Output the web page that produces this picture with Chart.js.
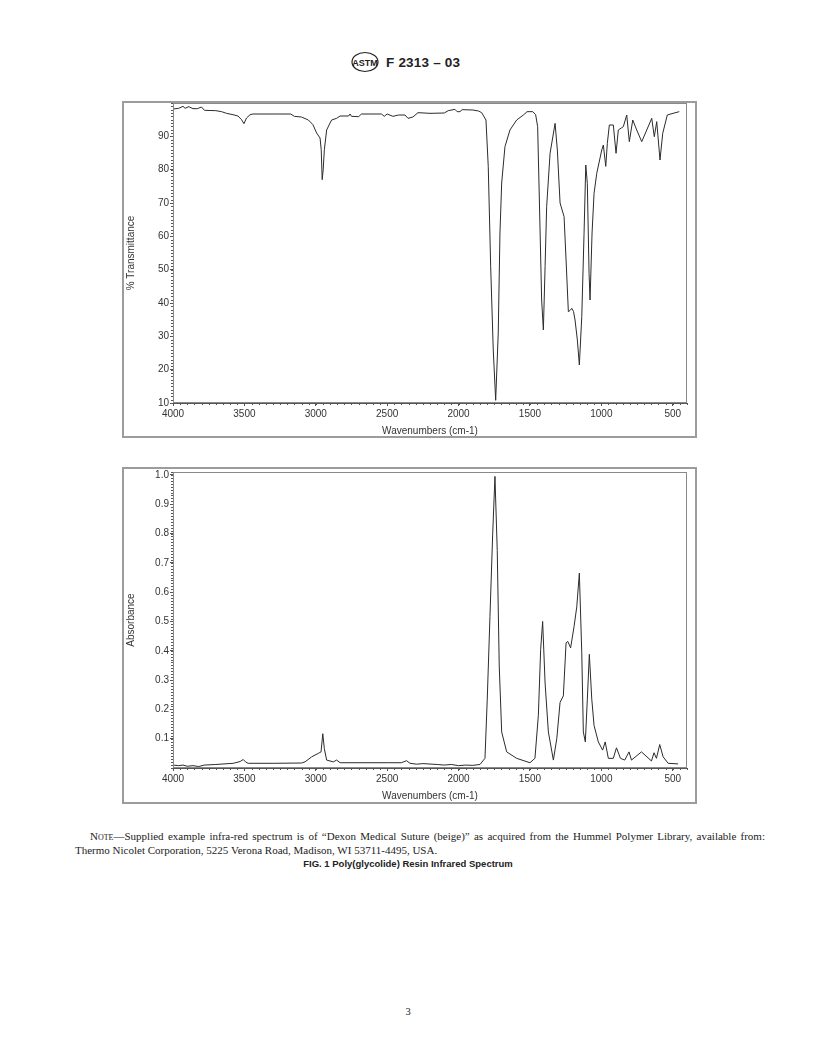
<!DOCTYPE html>
<html>
<head>
<meta charset="utf-8">
<title>F 2313 – 03 — FIG. 1</title>
<script src="https://cdn.jsdelivr.net/npm/chart.js@4.4.1/dist/chart.umd.min.js"></script>
<style>
  html, body { margin: 0; padding: 0; background: #fff; }
  #page { position: relative; width: 816px; height: 1056px; overflow: hidden; color: #222; font-family: "Liberation Sans", Arial, sans-serif; }
  #header { position: absolute; left: 350px; top: 51px; height: 22px; display: flex; align-items: center; }
  #header .code { font-weight: bold; font-size: 13.5px; margin-left: 6px; letter-spacing: 0.2px; }
  .frame { position: absolute; left: 122px; width: 575px; height: 337px; box-sizing: border-box; border: 2px solid #9c9c9c; }
  #frame-top { top: 101px; }
  #frame-bottom { top: 467px; }
  .frame canvas { display: block; }
  #note { position: absolute; left: 75px; width: 690px; top: 829px; font-family: "Liberation Serif", "Times New Roman", serif; font-size: 11px; line-height: 14px; text-align: justify; text-indent: 15px; }
  #note .sc { font-variant: small-caps; }
  #caption { position: absolute; left: 0; width: 816px; top: 858px; text-align: center; font-weight: bold; font-size: 9.5px; }
  #pageno { position: absolute; left: 0; width: 816px; top: 1006px; text-align: center; font-family: "Liberation Serif", serif; font-size: 10.5px; }
</style>
</head>
<body>
<div id="page">
  <div id="header">
    <svg width="30" height="22" viewBox="0 0 30 22">
      <ellipse cx="15" cy="11" rx="13" ry="9.5" fill="none" stroke="#222" stroke-width="1.2"/>
      <text x="15" y="14.5" text-anchor="middle" font-family="Liberation Sans, Arial" font-weight="bold" font-size="9" fill="#222">ASTM</text>
    </svg>
    <span class="code">F 2313 – 03</span>
  </div>

  <div class="frame" id="frame-top"><canvas id="chartT" width="571" height="333"></canvas></div>
  <div class="frame" id="frame-bottom"><canvas id="chartA" width="571" height="333"></canvas></div>

  <div id="note"><span class="sc">Note</span>—Supplied example infra-red spectrum is of “Dexon Medical Suture (beige)” as acquired from the Hummel Polymer Library, available from: Thermo Nicolet Corporation, 5225 Verona Road, Madison, WI 53711-4495, USA.</div>
  <div id="caption">FIG. 1 Poly(glycolide) Resin Infrared Spectrum</div>
  <div id="pageno">3</div>
</div>

<script>
// --- DATA ---
const xTicks = [4000, 3500, 3000, 2500, 2000, 1500, 1000, 500];
const transTicks = [10, 20, 30, 40, 50, 60, 70, 80, 90];
const absTicks = [0.1, 0.2, 0.3, 0.4, 0.5, 0.6, 0.7, 0.8, 0.9, 1.0];

// % Transmittance spectrum
const transWn = [
  4000, 3960, 3930, 3915, 3890, 3860, 3830, 3800, 3780, 3700, 3660, 3625, 3580, 3545, 3520, 3503, 3485, 3460,
  3440, 3300, 3175, 3150, 3100, 3052, 3020, 2994, 2970, 2962, 2955, 2948, 2940, 2924, 2900, 2889, 2854, 2830,
  2770, 2760, 2750, 2700, 2680, 2600, 2540, 2520, 2500, 2460, 2420, 2375, 2354, 2320, 2284, 2200, 2100, 2072,
  2025, 2010, 1990, 1975, 1899, 1860, 1838, 1808, 1792, 1775, 1757, 1740, 1722, 1710, 1698, 1675, 1640, 1593,
  1546, 1520, 1480, 1460, 1446, 1434, 1418, 1406, 1394, 1383, 1359, 1324, 1308, 1289, 1261, 1247, 1231, 1218,
  1207, 1195, 1184, 1168, 1154, 1137, 1121, 1109, 1098, 1086, 1079, 1065, 1051, 1032, 997, 986, 969, 958,
  944, 916, 897, 881, 860, 846, 822, 804, 780, 752, 717, 682, 647, 629, 612, 589, 570, 538, 498, 454
];
const transVals = [
  98.2, 98.4, 99.0, 98.4, 98.9, 98.3, 98.3, 98.8, 97.8, 97.7, 97.4, 96.9, 96.5, 96.1, 95.0, 93.8, 95.5, 96.5,
  96.7, 96.7, 96.7, 96.0, 95.8, 94.9, 93.5, 91.0, 89.5, 86.0, 77.0, 80.0, 86.0, 91.9, 94.0, 94.9, 95.4, 96.1,
  96.1, 96.7, 96.0, 95.9, 96.7, 96.7, 96.7, 96.0, 96.7, 96.0, 96.4, 96.4, 95.4, 95.8, 97.1, 96.9, 97.0, 97.7,
  98.1, 97.4, 97.4, 98.0, 97.9, 97.6, 97.1, 94.9, 80.9, 50.9, 25.9, 10.8, 31.0, 61.0, 76.0, 86.9, 91.9, 94.9,
  96.4, 97.4, 97.4, 96.5, 92.9, 70.9, 40.9, 31.9, 50.9, 68.9, 84.9, 93.9, 85.9, 70.0, 65.9, 52.9, 37.4, 37.8,
  38.4, 37.5, 34.9, 28.9, 21.4, 35.9, 60.9, 81.4, 75.9, 48.9, 40.9, 61.0, 72.9, 78.9, 85.9, 87.4, 81.0, 87.9,
  93.4, 93.4, 84.9, 91.9, 92.5, 92.9, 96.4, 88.4, 94.9, 91.9, 88.4, 91.9, 95.4, 89.9, 94.4, 82.9, 90.9, 96.4, 96.9, 97.4
];

// Absorbance spectrum
const absWn = [
  4000, 3960, 3930, 3900, 3860, 3820, 3780, 3700, 3671, 3578, 3530, 3508, 3490, 3473, 3300, 3100, 3075, 3029,
  2982, 2963, 2951, 2940, 2924, 2877, 2854, 2830, 2500, 2400, 2364, 2340, 2293, 2250, 2150, 2100, 2050, 2000,
  1950, 1900, 1850, 1815, 1799, 1780, 1761, 1745, 1729, 1715, 1698, 1663, 1593, 1500, 1465, 1441, 1425, 1411,
  1394, 1371, 1336, 1312, 1289, 1266, 1247, 1235, 1215, 1191, 1172, 1154, 1137, 1126, 1112, 1098, 1084, 1067,
  1051, 1021, 991, 973, 951, 916, 894, 866, 836, 806, 789, 719, 649, 631, 614, 591, 567, 532, 462
];
const absVals = [
  0.010, 0.008, 0.010, 0.006, 0.008, 0.005, 0.010, 0.012, 0.013, 0.016, 0.022, 0.029, 0.020, 0.016, 0.016, 0.017, 0.021, 0.038,
  0.050, 0.055, 0.117, 0.066, 0.027, 0.021, 0.027, 0.018, 0.018, 0.018, 0.025, 0.016, 0.013, 0.015, 0.012, 0.010, 0.012, 0.008,
  0.010, 0.009, 0.012, 0.033, 0.235, 0.517, 0.798, 0.995, 0.742, 0.348, 0.123, 0.055, 0.033, 0.018, 0.033, 0.180, 0.404, 0.500,
  0.290, 0.123, 0.027, 0.100, 0.224, 0.246, 0.427, 0.432, 0.410, 0.483, 0.550, 0.665, 0.393, 0.123, 0.089, 0.235, 0.388, 0.235,
  0.145, 0.089, 0.061, 0.089, 0.033, 0.033, 0.069, 0.033, 0.027, 0.055, 0.027, 0.055, 0.024, 0.052, 0.033, 0.080, 0.038, 0.016, 0.014
];

// --- CHART SETUP ---
const INK = '#2b2b2b';
const AXIS = '#555';

// thin box round the plot area plus the small minor ticks of the old OMNIC printout
const plotFrame = {
  id: 'plotFrame',
  afterDraw(chart, args, opts) {
    const { ctx, chartArea: a, scales } = chart;
    ctx.save();
    ctx.strokeStyle = '#8a8a8a';
    ctx.lineWidth = 1;
    ctx.strokeRect(a.left + 0.5, a.top + 0.5, a.right - a.left - 1, a.bottom - a.top - 1);
    ctx.strokeStyle = AXIS;
    ctx.beginPath();
    for (let v = 400; v <= 4000; v += 50) {
      const px = Math.round(scales.x.getPixelForValue(v)) + 0.5;
      ctx.moveTo(px, a.bottom); ctx.lineTo(px, a.bottom + 2);
    }
    for (let v = scales.y.min; v <= scales.y.max + 1e-9; v += opts.yMinor) {
      const py = Math.round(scales.y.getPixelForValue(v)) + 0.5;
      ctx.moveTo(a.left - 2, py); ctx.lineTo(a.left, py);
    }
    ctx.stroke();
    ctx.restore();
  }
};

function makeSpectrum(canvasId, wn, vals, yOpts) {
  const points = wn.map((w, i) => ({ x: w, y: vals[i] }));
  return new Chart(document.getElementById(canvasId), {
    type: 'scatter',
    data: {
      datasets: [{
        data: points,
        showLine: true,
        borderColor: INK,
        borderWidth: 1,
        pointRadius: 0,
        tension: 0
      }]
    },
    plugins: [plotFrame],
    options: {
      responsive: false,
      animation: false,
      layout: { padding: { top: yOpts.padTop, right: 8, left: 0, bottom: 0 } },
      plugins: { legend: { display: false }, tooltip: { enabled: false }, plotFrame: { yMinor: yOpts.minor } },
      scales: {
        x: {
          type: 'linear',
          reverse: true,
          min: 400,
          max: 4000,
          afterBuildTicks: s => { s.ticks = xTicks.map(v => ({ value: v })); },
          afterFit: s => { s.height = yOpts.xHeight; s.paddingLeft = 0; s.paddingRight = 0; },
          ticks: { color: '#333', font: { size: 10 }, padding: 2, maxRotation: 0, autoSkip: false, callback: v => String(v) },
          grid: { drawOnChartArea: false, tickLength: 3, color: AXIS },
          border: { color: AXIS },
          title: { display: true, text: 'Wavenumbers (cm-1)', color: '#333', font: { size: 10 }, padding: { top: 0, bottom: yOpts.titlePad } }
        },
        y: {
          min: yOpts.min,
          max: yOpts.max,
          afterBuildTicks: s => { s.ticks = yOpts.ticks.map(v => ({ value: v })); },
          afterFit: s => { s.width = 49; s.paddingTop = 0; s.paddingBottom = 0; },
          ticks: { color: '#333', font: { size: 10 }, padding: 1, callback: yOpts.fmt },
          grid: { drawOnChartArea: false, tickLength: 3, color: AXIS },
          border: { color: AXIS },
          title: { display: true, text: yOpts.title, color: '#333', font: { size: 10 }, padding: { top: 1.5, bottom: 0 } }
        }
      }
    }
  });
}

makeSpectrum('chartT', transWn, transVals, {
  min: 10, max: 100, ticks: transTicks, minor: 1, padTop: 0, xHeight: 33, titlePad: -1,
  title: '% Transmittance', fmt: v => String(v)
});

makeSpectrum('chartA', absWn, absVals, {
  min: 0, max: 1.01, ticks: absTicks, minor: 0.01, padTop: 3, xHeight: 34, titlePad: 0,
  title: 'Absorbance', fmt: v => v.toFixed(1)
});
</script>
</body>
</html>
